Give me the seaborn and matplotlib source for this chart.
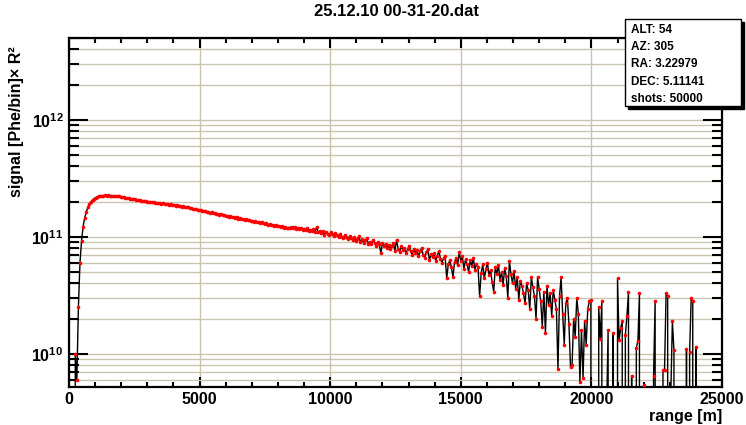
import numpy as np
import pandas as pd
import matplotlib
matplotlib.use("Agg")
import matplotlib.pyplot as plt
import seaborn as sns
from matplotlib.ticker import MultipleLocator, LogLocator, FixedLocator, FuncFormatter, NullFormatter
from matplotlib.patches import Rectangle

# Range-corrected lidar return, one value per 60 m range bin, in units of 1e9 Phe/bin * R^2
BIN_WIDTH_M = 60
signal_e9 = [
    -3, 4, -2, 10, 6, 25, 60, 92, 122, 145, 163, 178, 190, 199, 206, 212, 216, 219, 221, 222,
    224, 225, 226, 225, 226, 225, 224, 224, 223, 222, 221, 221, 219, 219, 217, 216, 215, 214, 212, 211,
    210, 209, 207, 206, 205, 203, 203, 201, 201, 199, 199, 198, 197, 197, 195, 196, 194, 194, 192, 193,
    191, 191, 190, 188, 189, 187, 187, 185, 186, 183, 183, 181, 182, 179, 180, 178, 176, 177, 174, 173,
    172, 171, 168, 170, 166, 167, 165, 163, 164, 161, 162, 159, 160, 157, 158, 155, 156, 153, 154, 151,
    152, 149, 151, 147, 148, 146, 147, 143, 145, 142, 143, 140, 141, 138, 140, 136, 137, 135, 136, 133,
    134, 131, 133, 130, 129, 131, 127, 128, 126, 127, 124, 126, 123, 124, 121, 123, 120, 122, 118, 120,
    120, 122, 119, 121, 117, 119, 116, 120, 115, 117, 114, 118, 113, 115, 112, 116, 110, 121, 109, 112,
    108, 111, 104, 110, 106, 103, 109, 105, 101, 107, 103, 99, 106, 100, 97, 104, 99, 95, 101, 97,
    94, 99, 92, 96, 101, 90, 95, 88, 93, 97, 87, 91, 86, 94, 89, 84, 90, 86, 72, 88,
    83, 87, 80, 85, 78, 84, 88, 76, 94, 79, 74, 83, 77, 80, 72, 78, 84, 75, 70, 79,
    73, 77, 68, 75, 80, 70, 66, 74, 78, 63, 71, 67, 72, 62, 69, 76, 65, 60, 66, 68,
    44, 58, 63, 55, 45, 61, 66, 57, 74, 62, 68, 53, 64, 58, 50, 63, 56, 66, 52, 59,
    55, 31, 49, 58, 44, 53, 60, 47, 52, 41, 34, 55, 48, 57, 43, 50, 39, 54, 46, 30,
    62, 48, 40, 51, 36, 45, 29, 42, 38, 33, 27, 40, 35, 24, 45, 37, 31, 20, 45, 36,
    28, 17, 34, 15, 38, 26, 33, 21, 35, 29, 24, 7.4, 31, 45, 22, 12, 27, 30, 18, 7.7,
    8, 20, 14, 30, 22, 5.7, 16, 6.2, 19, 12, 24, 28, 29, -12, -20, 4, -6, 25, 13.5, 28,
    -15, -6, 3, 16, -12, -4, 15, -20, -7, 44, 13, 16.5, 19, -8, 14.5, 21, 34, -16, 6.5, -10,
    -5, 11.3, 12.8, 33, -14, -3, 5.4, -18, -9, -22, -6, -13, 6.5, 28, -11, -20, -4, -15, 7.2, 7.3,
    33, 31, -10, 4.5, 19, 10.8, -17, -8, -24, -12, -5, -19, -9, 11, -14, 10.3, 30, 28, -7, 11.5,
    -6,
]

x_ticks = [0, 5000, 10000, 15000, 20000, 25000]
x_tick_labels = ["0", "5000", "10000", "15000", "20000", "25000"]
y_tick_exponents = [10, 11, 12]

title_text = "25.12.10 00-31-20.dat"
x_label = "range [m]"
y_label = "signal [Phe/bin]\u00d7 R\u00b2"

info_keys = ["ALT", "AZ", "RA", "DEC", "shots"]
info_values = ["54", "305", "3.22979", "5.11141", "50000"]

range_m = BIN_WIDTH_M * np.arange(1, len(signal_e9) + 1)
df = pd.DataFrame({"range": range_m, "signal": np.array(signal_e9, dtype=float) * 1e9})

sns.set_style("white")
plt.rcParams["font.family"] = ["Liberation Sans", "DejaVu Sans"]
plt.rcParams["font.weight"] = "bold"
plt.rcParams["text.color"] = "black"
plt.rcParams["axes.labelcolor"] = "black"
plt.rcParams["xtick.color"] = "black"
plt.rcParams["ytick.color"] = "black"
plt.rcParams["mathtext.fontset"] = "custom"
plt.rcParams["mathtext.rm"] = "Liberation Sans:bold"
plt.rcParams["mathtext.bf"] = "Liberation Sans:bold"

W, H = 746, 425
fig = plt.figure(figsize=(W / 100, H / 100), dpi=100)
fig.patch.set_facecolor("white")
ax_l, ax_r, ax_t, ax_b = 69, 722, 38, 387
ax = fig.add_axes([ax_l / W, 1 - ax_b / H, (ax_r - ax_l) / W, (ax_b - ax_t) / H])

sns.lineplot(
    data=df, x="range", y="signal", ax=ax,
    color="black", linewidth=1.0,
    marker="o", markersize=2.6, markerfacecolor="red",
    markeredgecolor="red", markeredgewidth=0,
    estimator=None, sort=False, zorder=3,
)

ax.set_yscale("log", nonpositive="clip")
ax.set_xlim(0, 25000)
ax.set_ylim(5.2e9, 5.0e12)

# axes ticks
ax.xaxis.set_major_locator(FixedLocator(x_ticks))
ax.set_xticklabels(x_tick_labels)
ax.xaxis.set_minor_locator(MultipleLocator(1000))
ax.yaxis.set_major_locator(FixedLocator([10.0 ** e for e in y_tick_exponents]))
ax.yaxis.set_major_formatter(FuncFormatter(lambda v, p: r"$\mathbf{10^{%d}}$" % round(np.log10(v))))
ax.yaxis.set_minor_locator(LogLocator(base=10, subs=np.arange(2, 10)))
ax.yaxis.set_minor_formatter(NullFormatter())

ax.xaxis.set_tick_params(which="major", direction="in", length=7, width=1.5,
                         top=True, bottom=True, labelsize=11.5, pad=3.5)
ax.xaxis.set_tick_params(which="minor", direction="in", length=3.8, width=1.5,
                         top=True, bottom=True)
ax.yaxis.set_tick_params(which="major", direction="in", length=13.5, width=1.5,
                         left=True, right=True, labelsize=11.5, pad=4)
ax.yaxis.set_tick_params(which="minor", direction="in", length=7, width=1.5,
                         left=True, right=True)

for spine in ax.spines.values():
    spine.set_linewidth(1.6)
    spine.set_color("black")

grid_color = "#c9c4ae"
ax.grid(True, which="major", axis="both", color=grid_color, linewidth=1.0)
ax.yaxis.grid(True, which="minor", color=grid_color, linewidth=1.0)
ax.set_axisbelow(True)

ax.set_xlabel(x_label, fontsize=11.5, fontweight="bold", loc="right")
ax.xaxis.set_label_coords(1.0, -0.062)
ax.set_ylabel(y_label, fontsize=11.5, fontweight="bold", loc="top")
ax.yaxis.set_label_coords(-0.069, 0.975)

fig.text(396 / W, 1 - 12 / H, title_text, ha="center", va="center",
         fontsize=12, fontweight="bold")

# info box with drop shadow
bx0, bx1, by0, by1 = 625, 741, 19, 106
shadow = Rectangle(((bx0 + 3) / W, 1 - (by1 + 3) / H), (bx1 - bx0) / W, (by1 - by0) / H,
                   transform=fig.transFigure, facecolor="black", edgecolor="black", zorder=10)
box = Rectangle((bx0 / W, 1 - by1 / H), (bx1 - bx0) / W, (by1 - by0) / H,
                transform=fig.transFigure, facecolor="white", edgecolor="black",
                linewidth=1.0, zorder=11)
fig.patches.extend([shadow, box])
for k, (key, val) in enumerate(zip(info_keys, info_values)):
    fig.text(631 / W, 1 - (30 + 17.2 * k) / H, f"{key}: {val}", ha="left", va="center",
             fontsize=8.5, fontweight="bold", zorder=12)

fig.savefig("out.png", dpi=100)
